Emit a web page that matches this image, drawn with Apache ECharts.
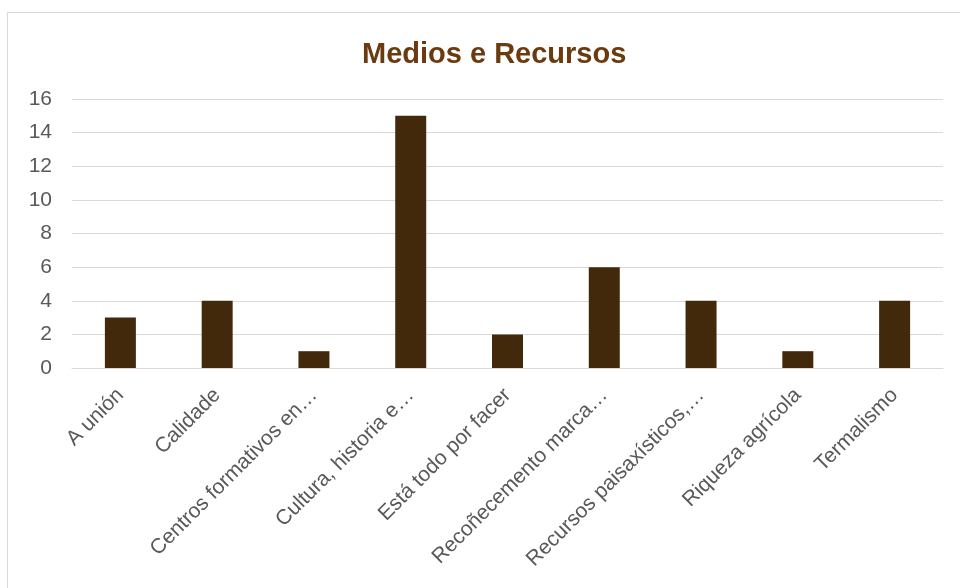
<!DOCTYPE html>
<html>
<head>
<meta charset="utf-8">
<script src="https://cdn.jsdelivr.net/npm/echarts@6/dist/echarts.min.js"></script>
<style>
  html, body { margin: 0; padding: 0; background: #ffffff; }
  #chart { width: 960px; height: 588px; }
</style>
</head>
<body>
<div id="chart"></div>
<script>
// Categories and counts for "Medios e Recursos"
const categories = [
  'A unión',
  'Calidade',
  'Centros formativos en…',
  'Cultura, historia e…',
  'Está todo por facer',
  'Recoñecemento marca…',
  'Recursos paisaxísticos,…',
  'Riqueza agrícola',
  'Termalismo'
];
const counts = [3, 4, 1, 15, 2, 6, 4, 1, 4];
const yTicks = { min: 0, max: 16, interval: 2 };

const chart = echarts.init(document.getElementById('chart'), null, { renderer: 'canvas' });

chart.setOption({
  animation: false,
  backgroundColor: '#ffffff',
  textStyle: { fontFamily: 'Liberation Sans, Arial, sans-serif' },
  title: {
    text: 'Medios e Recursos',
    left: 357,
    top: 35,
    textStyle: {
      color: '#6b3a0e',
      fontSize: 29,
      fontWeight: 'bold',
      fontFamily: 'Liberation Sans, Arial, sans-serif'
    }
  },
  graphic: [{
    type: 'rect',
    shape: { x: 7.5, y: 12.5, width: 1000, height: 700 },
    style: { fill: 'none', stroke: '#d9d9d9', lineWidth: 1 },
    silent: true
  }],
  grid: { left: 72, right: 17, top: 99, bottom: 220, containLabel: false },
  xAxis: {
    type: 'category',
    data: categories,
    axisLine: { show: true, lineStyle: { color: '#d9d9d9', width: 1 } },
    axisTick: { show: false },
    axisLabel: {
      rotate: 45,
      interval: 0,
      color: '#595959',
      fontSize: 21,
      margin: 24,
      fontFamily: 'Liberation Sans, Arial, sans-serif'
    }
  },
  yAxis: {
    type: 'value',
    min: yTicks.min,
    max: yTicks.max,
    interval: yTicks.interval,
    axisLine: { show: false },
    axisTick: { show: false },
    splitLine: { lineStyle: { color: '#d9d9d9', width: 1 } },
    axisLabel: {
      color: '#595959',
      fontSize: 21,
      margin: 20,
      fontFamily: 'Liberation Sans, Arial, sans-serif'
    }
  },
  series: [{
    type: 'bar',
    data: counts,
    barWidth: 31,
    itemStyle: { color: '#43290c' }
  }]
});
</script>
</body>
</html>
